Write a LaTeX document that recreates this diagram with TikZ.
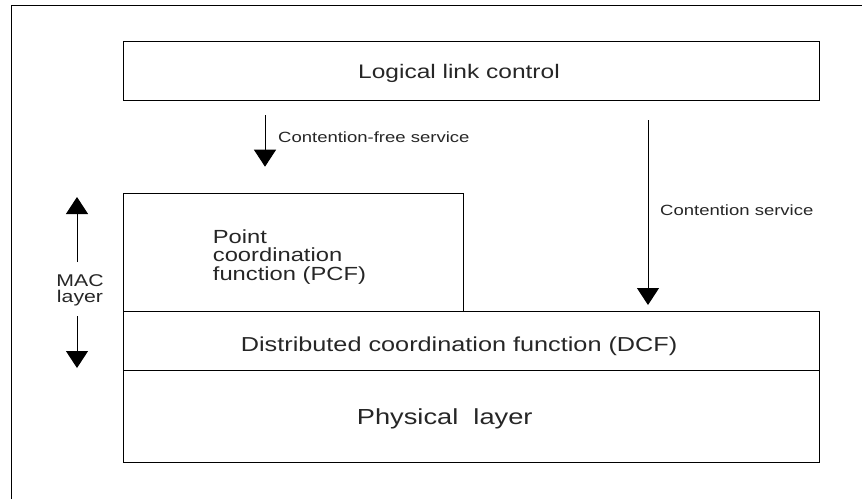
\documentclass[tikz,border=0pt]{standalone}
\usepackage{fontspec}
\setmainfont{Liberation Sans}[FakeStretch=1.25]
\usetikzlibrary{arrows.meta, positioning}
\definecolor{inkgray}{rgb}{0.15,0.15,0.15}

\begin{document}
\begin{tikzpicture}[x=1pt, y=-1pt,
    box/.style={rectangle, draw, line width=1pt, outer sep=0pt, inner sep=0pt, anchor=north west},
    lbl/.style={inner sep=0pt, anchor=base west, text=inkgray},
    arrow/.style={-{Triangle[length=17pt, width=22pt]}, line width=1pt}
]
\useasboundingbox (0,0) rectangle (862,499);
% frame
\draw[line width=1pt] (11,499) -- (11,5) -- (862,5);

% layers
\node[box, minimum width=696pt, minimum height=59pt] (llc) at (123,41) {};
\node[box, minimum width=696pt, minimum height=59pt] (dcf) at (123,311) {};
\node[box, minimum width=696pt, minimum height=92pt, below=0pt of dcf] (phy) {};
\node[box, minimum width=340pt, minimum height=118pt, above right=0pt of dcf.north west] (pcf) {};

% texts (base = last line)
\node[lbl, font=\fontsize{19.6}{20}\selectfont] (llctxt) at (358,78.3) {Logical link control};
\node[lbl, align=left, font=\fontsize{19}{18.3}\selectfont] (pcftxt) at (212.7,280) {Point\\coordination\\function (PCF)};
\node[lbl, font=\fontsize{20.2}{21}\selectfont] (dcftxt) at (240.7,351.7) {Distributed coordination function (DCF)};
\node[lbl, font=\fontsize{21.8}{22}\selectfont] (phytxt) at (356.7,424.3) {Physical\ \ layer};
\node[lbl, font=\fontsize{14.8}{15}\selectfont] (cfstxt) at (278,142.3) {Contention-free service};
\node[lbl, font=\fontsize{14.8}{15}\selectfont] (cstxt) at (660,215) {Contention service};
\node[lbl, anchor=base, align=center, font=\fontsize{17}{16}\selectfont] (mactxt) at (80,302.7) {MAC\\layer};

% services and MAC extent
\coordinate (cfstop) at (265,115);
\coordinate (cfsend) at (265,166.7);
\coordinate (cstop) at (648,120);
\coordinate (csend) at (648,305);
\coordinate (macupfoot) at (77,262);
\coordinate (macup) at (77,197);
\coordinate (macdownfoot) at (77,316);
\coordinate (macdown) at (77,368);

\draw[arrow] (cfstop) -- (cfsend);
\draw[arrow] (cstop) -- (csend);
\draw[arrow] (macupfoot) -- (macup);
\draw[arrow] (macdownfoot) -- (macdown);

\end{tikzpicture}
\end{document}
